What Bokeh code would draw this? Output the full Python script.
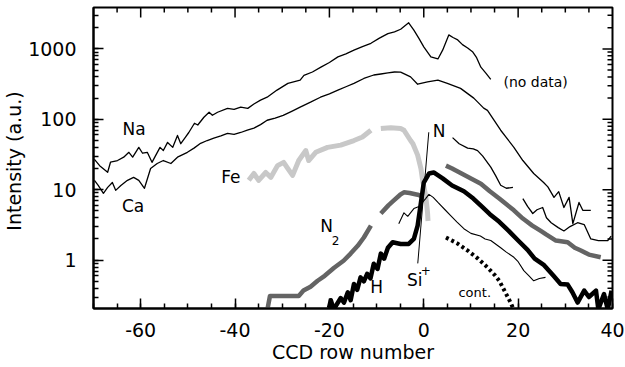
import numpy as np
from bokeh.plotting import figure
from bokeh.models import (ColumnDataSource, LogTicker, SingleIntervalTicker,
                          PrintfTickFormatter, Range1d)
from bokeh.core.properties import value
from bokeh.embed import file_html
from bokeh.resources import INLINE

nan = float("nan")

# ---------------- data ----------------
na_x = [-69.8, -68.7, -67.0, -66.4, -64.9, -63.6, -62.5, -61.7, -60.4, -59.6, -58.6, -57.6, -56.9,
        -55.9, -55.2, -54.3, -53.2, -52.2, -51.5, -50.5, -49.8, -48.6, -47.9, -46.6, -45.5, -44.8,
        -43.7, -41.6, -40.2, -38.8, -37.3, -36.0, -34.6, -33.2, -31.1, -28.8, -26.2, -25.4, -23.6,
        -21.8, -20.0, -18.2, -16.5, -14.8, -13.0, -11.2, -9.4, -7.6, -6.2, -4.9, -3.2, -2.1, -1.0,
        0.0, 1.5, 3.0, 4.0, 5.3, 6.2, 7.2, 8.2, 9.3, 10.4, 11.2, 12.1, 13.2, 14.2]
na_y = [27, 22, 17.7, 24.6, 26, 29, 34, 29, 40, 33, 34, 24.5, 30,
        40, 36, 47, 40, 59, 45, 56, 65, 88, 83, 107, 126, 114,
        126, 143, 138, 149, 143, 165, 187, 206, 260, 324, 360, 420, 470,
        550, 640, 770, 850, 960, 1080, 1200, 1420, 1650, 1750, 1900, 2350, 1850, 1400,
        1070, 770, 720, 960, 1580, 1450, 1340, 1150, 1030, 900, 750, 550, 450, 370]

ca_x = [-69.8, -69.0, -67.9, -67.0, -66.0, -65.3, -64.2, -62.8, -61.5, -60.4, -59.2, -57.9, -56.5,
        -55.2, -53.6, -52.2, -50.1, -48.7, -47.3, -45.9, -44.5, -43.0, -41.6, -40.2, -38.8, -37.4,
        -36.0, -34.6, -33.2, -31.5, -29.8, -28.0, -26.2, -24.0, -21.9, -20.0, -18.2, -16.5, -14.8,
        -12.7, -10.6, -9.1, -7.6, -6.2, -4.9, -2.8, -1.3, 0.8, 3.0, 5.0, 7.8, 10.6, 12.7, 13.5,
        16.3, 19.1, 21.0, 23.3, 25.4, 26.3, 27.6, 28.6, 29.7, 30.8, 31.6, 32.9, 33.7, 35.4]
ca_y = [13.6, 11.5, 8.9, 10.8, 12.7, 9.8, 11.5, 13.6, 15, 13.6, 10.5, 20, 23.6,
        26, 23.6, 29, 34, 39, 45.6, 50, 54, 58, 63, 61, 65, 70,
        75, 84, 97, 104, 114, 130, 149, 175, 206, 230, 259, 290, 324,
        380, 426, 440, 455, 470, 468, 400, 315, 340, 360, 324, 275, 200, 144, 134,
        70, 40, 26, 17, 12.7, 11, 7.8, 9.4, 5.6, 7.8, 3.3, 6.6, 5.1, 5.1]

n_x = [6.1, 7.5, 9.3, 10.5, 11.4, 12.5, 14.2, 15.2, 16.3, 17.5, 18.9, nan,
       21.0, 22.0, 23.1, 24.0, 25.2, 26.0, 27.0, 28.5, 29.7, 31.0, 32.6, 34.0, 35.4, 37.0, 39.0, 39.7]
n_y = [55, 45, 39, 38, 36, 30, 21, 16, 11.6, 10.5, 10.8, nan,
       7.5, 5.8, 4.6, 5.2, 5.6, 4.0, 3.4, 2.9, 2.6, 3.0, 3.4, 3.2, 2.0, 1.9, 1.9, 2.2]

si_x = [-5.3, -4.2, -3.4, -2.1, -1.0, 0.4, 1.1, 2.0, 3.0, 4.5, 5.7, 7.0, 8.5, 10.0, 12.0, 13.0,
        14.2, 16.3, 17.5, 19.1, 20.0, 21.2, 22.3, 23.3, 24.5, 25.8]
si_y = [3.3, 4.7, 4.2, 5.4, 5.8, 7.5, 8.6, 7.8, 6.6, 5.2, 4.3, 3.5, 2.8, 2.4, 2.2, 2.0,
        1.9, 1.5, 1.3, 1.1, 0.95, 0.71, 0.6, 0.51, 0.55, 0.57]

h_x = [-20.1, -19.7, -19.1, -17.6, -16.9, -16.1, -15.5, -14.8, -14.1, -13.4, -12.7, -12.0, -11.3,
       -10.6, -9.8, -9.1, -8.4, -7.6, -6.6, -4.9, -3.2, -2.1, -1.3, -0.6, 0.0, 1.1, 2.1, 4.0,
       6.0, 8.5, 10.5, 12.5, 14.0, 16.0, 18.0, 20.0, 22.0, 23.5, 25.5, 27.5, 29.0, 30.5, 31.5,
       32.6, 34.0, 35.0, 36.5, 37.0, 38.2, 39.0, 39.8]
h_y = [0.21, 0.27, 0.2, 0.29, 0.25, 0.35, 0.27, 0.46, 0.38, 0.57, 0.5, 0.64, 0.55,
       0.89, 0.75, 1.24, 1.05, 1.5, 1.8, 1.7, 1.7, 2.0, 3.1, 6.6, 12.6, 17, 17.6, 14.5,
       11.5, 9.5, 7.5, 5.6, 4.5, 3.5, 2.6, 1.9, 1.4, 1.05, 0.85, 0.6, 0.46, 0.45, 0.35,
       0.25, 0.37, 0.3, 0.37, 0.2, 0.33, 0.2, 0.37]

n2_x = [-33.2, -32.6, -26.5, -25.5, -24.0, -22.5, -21.0, -19.0, -17.0, -15.5, -14.0, -12.7, -11.2, nan,
        -9.1, -7.5, -6.4, -5.0, -4.2, -3.0, -1.3, -0.2, nan,
        4.7, 6.0, 8.0, 10.0, 12.1, 14.0, 16.0, 19.1, 21.0, 23.0, 24.8, 26.0, 28.0, 30.5, 32.0,
        33.3, 35.0, 37.5]
n2_y = [0.19, 0.31, 0.31, 0.37, 0.42, 0.51, 0.6, 0.78, 0.98, 1.24, 1.6, 2.1, 3.1, nan,
        4.6, 6.0, 7.0, 8.5, 9.2, 9.0, 8.5, 8.0, nan,
        22, 20, 17, 14.5, 12.2, 9.5, 7.5, 5.1, 3.9, 3.1, 2.6, 2.3, 1.9, 1.8, 1.5,
        1.37, 1.2, 1.1]

fe_x = [-37.1, -36.0, -35.0, -33.5, -32.4, -31.0, -29.7, -28.8, -27.8, -26.5, -25.0, -24.4, -22.9,
        -20.4, -17.6, -14.8, -13.0, -11.2, nan,
        -9.1, -7.0, -4.9, -4.2, -2.8, -2.3, -1.3, -0.6, -0.2, 0.4, 0.8, 0.9]
fe_y = [13.6, 17, 13.6, 17.6, 15, 22, 24.5, 20, 16, 26, 36, 26, 34,
        40, 43, 50, 56, 70, nan,
        74, 76, 74, 70, 50, 45, 31, 20, 13, 8.3, 4.7, 3.6]

cont_x = [4.7, 7.0, 9.3, 11.5, 13.5, 15.0, 16.0, 17.0, 17.8, 18.4, 18.9]
cont_y = [2.1, 1.75, 1.37, 1.05, 0.79, 0.62, 0.51, 0.38, 0.30, 0.25, 0.21]

pointer_x = [1.06, -1.27]
pointer_y = [65.5, 0.90]

label_text = ["Na", "Ca", "Fe", "N", "H", "Si", "N"]
label_x = [-61.4, -61.6, -40.9, 3.25, -10.0, -1.9, -20.6]
label_y = [74, 5.85, 15.2, 68, 0.41, 0.53, 3.05]

small_text = ["2", "+"]
small_x = [-18.7, 0.4]
small_y = [1.89, 0.71]

note_text = ["(no data)", "cont."]
note_x = [23.7, 10.8]
note_y = [334, 0.35]
note_size = ["14px", "13px"]

y_ticks_labels = {1: "1", 10: "10", 100: "100", 1000: "1000"}

X_MIN, X_MAX = -70, 40
Y_MIN, Y_MAX = 0.206, 3870

FONT = "DejaVu Sans"

# ---------------- figure ----------------
p = figure(width=625, height=367, x_range=Range1d(X_MIN, X_MAX), y_range=Range1d(Y_MIN, Y_MAX),
           y_axis_type="log", output_backend="svg", toolbar_location=None,
           min_border_left=93, min_border_right=13, min_border_top=7, min_border_bottom=59)
p.background_fill_color = "white"
p.border_fill_color = "white"
p.outline_line_color = "black"
p.outline_line_width = 2
p.xgrid.grid_line_color = None
p.ygrid.grid_line_color = None

xt = SingleIntervalTicker(interval=20, num_minor_ticks=4)
yt = LogTicker(num_minor_ticks=10)


def style_axis(ax):
    ax.axis_line_color = "black"
    ax.axis_line_width = 2
    ax.major_tick_in = 10
    ax.major_tick_out = 0
    ax.minor_tick_in = 5
    ax.minor_tick_out = 0
    ax.major_tick_line_width = 1.5
    ax.minor_tick_line_width = 1.5
    ax.major_tick_line_color = "black"
    ax.minor_tick_line_color = "black"
    ax.major_label_text_font = FONT
    ax.major_label_text_font_size = "19px"
    ax.major_label_text_color = "black"
    ax.axis_label_text_font = FONT
    ax.axis_label_text_font_size = "19px"
    ax.axis_label_text_font_style = "normal"
    ax.axis_label_text_color = "black"


xa = p.xaxis[0]
xa.ticker = xt
xa.formatter = PrintfTickFormatter(format="%d")
xa.axis_label = "CCD row number"
style_axis(xa)
xa.major_label_standoff = 14
xa.axis_label_standoff = 1

ya = p.yaxis[0]
ya.ticker = yt
ya.formatter = PrintfTickFormatter(format="%d")
ya.major_label_overrides = y_ticks_labels
ya.axis_label = "Intensity  (a.u.)"
style_axis(ya)
ya.major_label_standoff = 17
ya.axis_label_standoff = 0

# mirrored inward ticks on top and right edges (tick positions of the two axes)
top_major = [v for v in range(-60, 41, 20) if X_MIN < v < X_MAX]
top_minor = [v for v in range(-70, 41, 5) if X_MIN < v < X_MAX and v % 20 != 0]
right_major = [v for v in (1, 10, 100, 1000) if Y_MIN < v < Y_MAX]
right_minor = [k * 10.0 ** e for e in range(-1, 4) for k in range(2, 10) if Y_MIN < k * 10.0 ** e < Y_MAX]

p.ray(x=top_major, y=[Y_MAX] * len(top_major), length=10, length_units="screen",
      angle=-np.pi / 2, line_color="black", line_width=1.5)
p.ray(x=top_minor, y=[Y_MAX] * len(top_minor), length=5, length_units="screen",
      angle=-np.pi / 2, line_color="black", line_width=1.5)
p.ray(x=[X_MAX] * len(right_major), y=right_major, length=10, length_units="screen",
      angle=np.pi, line_color="black", line_width=1.5)
p.ray(x=[X_MAX] * len(right_minor), y=right_minor, length=5, length_units="screen",
      angle=np.pi, line_color="black", line_width=1.5)

# ---------------- series ----------------
p.line(na_x, na_y, line_color="black", line_width=1.3, line_join="round")
p.line(ca_x, ca_y, line_color="black", line_width=1.3, line_join="round")
p.line(np.array(fe_x), np.array(fe_y), line_color="#c8c8c8", line_width=5, line_join="round")
p.line(np.array(n2_x), np.array(n2_y), line_color="#646464", line_width=4.5, line_join="round")
p.line(np.array(n_x), np.array(n_y), line_color="black", line_width=1.3, line_join="round")
p.line(si_x, si_y, line_color="black", line_width=1.1, line_join="round")
p.line(h_x, h_y, line_color="black", line_width=4.5, line_join="round")
p.line(cont_x, cont_y, line_color="black", line_width=4, line_dash="3 3", line_cap="butt")
p.line(pointer_x, pointer_y, line_color="black", line_width=1)

p.text(x=label_x, y=label_y, text=label_text, text_font=value(FONT), text_font_size="17px",
       text_align="center", text_baseline="middle", text_color="black")
p.text(x=small_x, y=small_y, text=small_text, text_font=value(FONT), text_font_size="12px",
       text_align="center", text_baseline="middle", text_color="black")
src_notes = ColumnDataSource(dict(x=note_x, y=note_y, text=note_text, size=note_size))
p.text(x="x", y="y", text="text", text_font_size="size", source=src_notes, text_font=value(FONT),
       text_align="center", text_baseline="middle", text_color="black")

open("out.html", "w").write(file_html(p, INLINE))
